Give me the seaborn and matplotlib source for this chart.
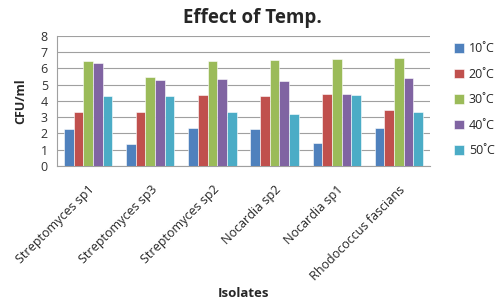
import numpy as np
import pandas as pd
import matplotlib
matplotlib.use('Agg')
import matplotlib.pyplot as plt
import seaborn as sns

isolates = ['Streptomyces sp1', 'Streptomyces sp3', 'Streptomyces sp2',
            'Nocardia sp2', 'Nocardia sp1', 'Rhodococcus fascians']
temps = ['10˚C', '20˚C', '30˚C', '40˚C', '50˚C']
t10 = [2.3, 1.35, 2.35, 2.3, 1.4, 2.35]
t20 = [3.35, 3.35, 4.35, 4.3, 4.4, 3.45]
t30 = [6.45, 5.5, 6.45, 6.55, 6.6, 6.65]
t40 = [6.35, 5.3, 5.35, 5.25, 4.4, 5.4]
t50 = [4.3, 4.3, 3.35, 3.2, 4.35, 3.35]
colors = ['#4F81BD', '#C0504D', '#9BBB59', '#8064A2', '#4BACC6']

df = pd.DataFrame({'Isolates': isolates * 5,
                   'temp': np.repeat(temps, len(isolates)),
                   'CFU': t10 + t20 + t30 + t40 + t50})

sns.set_style('white')
plt.rcParams['font.family'] = ['Open Sans', 'DejaVu Sans']

fig = plt.figure(figsize=(5, 3), dpi=100)
ax = fig.add_axes([0.114, 0.447, 0.746, 0.433])
sns.barplot(data=df, x='Isolates', y='CFU', hue='temp', palette=colors,
            saturation=1, width=0.78, ax=ax, edgecolor='white',
            linewidth=0.4, zorder=3)

ax.set_ylim(0, 8)
ax.set_yticks(range(0, 9))
ax.yaxis.grid(True, color='#a0a0a0', linewidth=0.8, zorder=0)
ax.set_axisbelow(True)
for s in ['top', 'right']:
    ax.spines[s].set_visible(False)
for s in ['left', 'bottom']:
    ax.spines[s].set_color('#a0a0a0')
    ax.spines[s].set_linewidth(0.8)
ax.tick_params(axis='y', labelsize=9, pad=3, colors='#333333')
ax.tick_params(axis='x', labelsize=9, pad=9)
plt.setp(ax.get_xticklabels(), rotation=45, ha='right', rotation_mode='anchor')
ax.set_xlabel('Isolates', fontsize=9.5, fontweight='bold')
ax.xaxis.set_label_coords(0.5, -0.93)
ax.set_ylabel('CFU/ml', fontsize=9, fontweight='bold', labelpad=10)
fig.suptitle('Effect of Temp.', x=0.505, y=0.975, fontsize=13.5, fontweight='bold')

handles, labels = ax.get_legend_handles_labels()
ax.legend_.remove()
fig.legend(handles, labels, loc='upper left', bbox_to_anchor=(0.885, 0.897),
           frameon=False, fontsize=9, handlelength=0.8, handleheight=0.8,
           labelspacing=1.0, handletextpad=0.4)

fig.savefig('out.png', dpi=100)
